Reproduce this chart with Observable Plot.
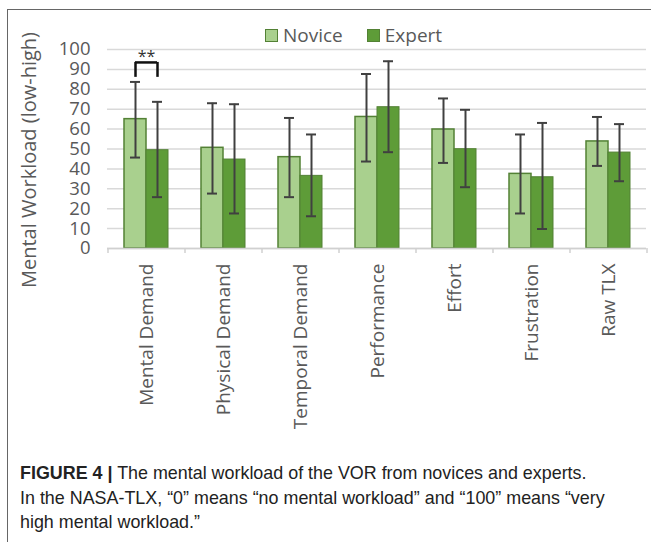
<!DOCTYPE html>
<html>
<head>
<meta charset="utf-8">
<script src="https://cdn.jsdelivr.net/npm/d3@7"></script>
<script src="https://cdn.jsdelivr.net/npm/@observablehq/plot@0.6"></script>
<style>
  html, body { margin: 0; padding: 0; background: #fff; }
  body { width: 651px; height: 542px; position: relative; overflow: hidden; }
  #frame { position: absolute; left: 7px; top: 9px; width: 700px; height: 600px;
           border-left: 1.5px solid #666; border-top: 1.5px solid #666; }
  #chart { position: absolute; left: 0; top: 0; }
  #ylabel { position: absolute; left: 28px; top: 160px; transform: translate(-50%, -50%) rotate(-90deg);
            white-space: nowrap; font-family: "Open Sans", sans-serif; font-size: 20px; color: #595959; }
  #legend { position: absolute; left: 265px; top: 22px; font-family: "Open Sans", sans-serif; font-size: 19px;
            color: #595959; display: flex; align-items: center; white-space: nowrap; }
  .sw { display: inline-block; width: 11px; height: 11px; margin-right: 5px; }
  #caption { position: absolute; left: 20px; top: 461px; width: 631px; font-family: "Liberation Sans", Arial, sans-serif;
             font-size: 17.9px; line-height: 24.5px; color: #222; white-space: nowrap; }
</style>
</head>
<body>
<div id="frame"></div>
<div id="chart"></div>
<div id="ylabel">Mental Workload (low-high)</div>
<div id="legend"></div>
<div id="caption"><b>FIGURE 4 |</b> The mental workload of the VOR from novices and experts.<br>In the NASA-TLX, “0” means “no mental workload” and “100” means “very<br>high mental workload.”</div>
<script>
const categories = ["Mental Demand", "Physical Demand", "Temporal Demand", "Performance", "Effort", "Frustration", "Raw TLX"];
const groups = ["Novice", "Expert"];
const noviceMean = [65, 50.6, 45.9, 66.1, 59.8, 37.5, 53.8];
const noviceLow  = [45.7, 27.6, 25.8, 43.7, 43.0, 17.6, 41.5];
const noviceHigh = [83.7, 73.0, 65.6, 87.7, 75.4, 57.3, 66.1];
const expertMean = [49.4, 44.7, 36.5, 71.0, 49.9, 35.8, 48.2];
const expertLow  = [25.8, 17.6, 16.2, 48.4, 30.8, 9.8, 33.8];
const expertHigh = [73.7, 72.5, 57.3, 94.1, 69.7, 63.1, 62.5];
const yTicks = [0, 10, 20, 30, 40, 50, 60, 70, 80, 90, 100];
const sigCategory = ["Mental Demand"];
const sigLow = [86];
const sigHigh = [93.5];
const sigLabel = ["**"];

const colors = {Novice: "#a9d08e", Expert: "#5e9c38"};
const strokeCol = "#538135";

const novice = categories.map((c, i) => ({category: c, mean: noviceMean[i], lo: noviceLow[i], hi: noviceHigh[i]}));
const expert = categories.map((c, i) => ({category: c, mean: expertMean[i], lo: expertLow[i], hi: expertHigh[i]}));
const sig = sigCategory.map((c, i) => ({category: c, lo: sigLow[i], hi: sigHigh[i], label: sigLabel[i]}));

const half = 11;      // half of a group's bar pair width (px)
const halfStep = 38.5; // half of the band step (px)

const plot = Plot.plot({
  width: 651,
  height: 430,
  marginLeft: 107,
  marginRight: 5,
  marginTop: 49,
  marginBottom: 182,
  style: {fontFamily: "Open Sans, sans-serif", background: "transparent"},
  x: {domain: categories, paddingInner: 0.4286, paddingOuter: 0.208, label: null},
  y: {domain: [0, 100], label: null},
  marks: [
    Plot.gridY(yTicks, {stroke: "#d9d9d9", strokeOpacity: 1, strokeWidth: 1.5}),
    Plot.ruleX(categories, {x: d => d, dx: -halfStep, y1: 0, y2: -2.5, stroke: "#d0d0d0", strokeWidth: 1.5}),
    Plot.ruleX(categories.slice(-1), {x: d => d, dx: halfStep, y1: 0, y2: -2.5, stroke: "#d0d0d0", strokeWidth: 1.5}),
    Plot.barY(novice, {x: "category", y: "mean", fill: colors.Novice, stroke: strokeCol, strokeWidth: 1.5, insetRight: 2 * half}),
    Plot.barY(expert, {x: "category", y: "mean", fill: colors.Expert, stroke: strokeCol, strokeWidth: 1, insetLeft: 2 * half}),
    Plot.ruleY([0], {stroke: "#d0d0d0", strokeWidth: 1.5}),
    Plot.ruleX(novice, {x: "category", y1: "lo", y2: "hi", dx: -half, stroke: "#404040", strokeWidth: 2}),
    Plot.tickY(novice, {x: "category", y: "hi", dx: -half, insetLeft: 17, insetRight: 17, stroke: "#404040", strokeWidth: 2}),
    Plot.tickY(novice, {x: "category", y: "lo", dx: -half, insetLeft: 17, insetRight: 17, stroke: "#404040", strokeWidth: 2}),
    Plot.ruleX(expert, {x: "category", y1: "lo", y2: "hi", dx: half, stroke: "#404040", strokeWidth: 2}),
    Plot.tickY(expert, {x: "category", y: "hi", dx: half, insetLeft: 17, insetRight: 17, stroke: "#404040", strokeWidth: 2}),
    Plot.tickY(expert, {x: "category", y: "lo", dx: half, insetLeft: 17, insetRight: 17, stroke: "#404040", strokeWidth: 2}),
    Plot.tickY(sig, {x: "category", y: "hi", insetLeft: half, insetRight: half, stroke: "#111", strokeWidth: 2.5}),
    Plot.ruleX(sig, {x: "category", y1: "lo", y2: "hi", dx: -half, stroke: "#111", strokeWidth: 2.5}),
    Plot.ruleX(sig, {x: "category", y1: "lo", y2: "hi", dx: half, stroke: "#111", strokeWidth: 2.5}),
    Plot.text(sig, {x: "category", y: "hi", text: "label", dy: -6, fontSize: 16, fill: "#333"}),
    Plot.axisY(yTicks, {tickSize: 0, tickPadding: 17, fontSize: 18.5, color: "#595959", label: null}),
    Plot.axisX({tickSize: 0, tickPadding: 15, tickRotate: -90, fontSize: 19, color: "#595959", label: null})
  ]
});
document.getElementById("chart").appendChild(plot);

const legend = document.getElementById("legend");
groups.forEach((g, i) => {
  const item = document.createElement("span");
  item.style.display = "inline-flex";
  item.style.alignItems = "center";
  item.style.marginRight = i === 0 ? "24px" : "0";
  const sw = document.createElement("span");
  sw.className = "sw";
  sw.style.background = colors[g];
  sw.style.border = `1.5px solid ${strokeCol}`;
  item.appendChild(sw);
  item.appendChild(document.createTextNode(g));
  legend.appendChild(item);
});
</script>
</body>
</html>
